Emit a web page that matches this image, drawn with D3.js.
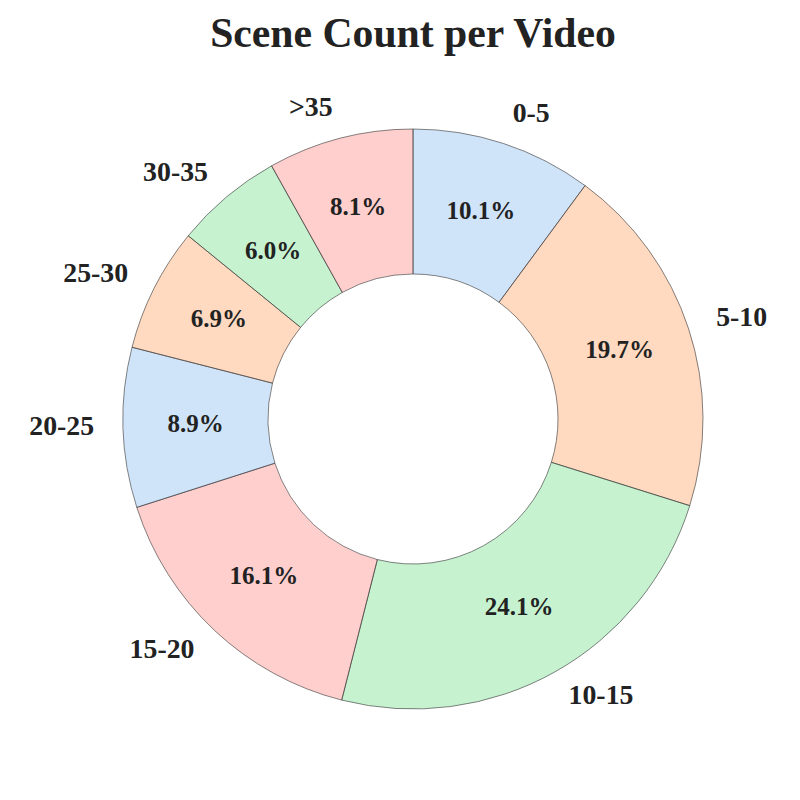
<!DOCTYPE html>
<html>
<head>
<meta charset="utf-8">
<script src="https://cdn.jsdelivr.net/npm/d3@7"></script>
<style>
  body { margin: 0; background: #fff; }
  text { font-family: "Liberation Serif", "Times New Roman", serif; font-weight: bold; fill: #222; }
</style>
</head>
<body>
<div id="chart"></div>
<script>
const categories = ['0-5', '5-10', '10-15', '15-20', '20-25', '25-30', '30-35', '>35'];
const shares = [10.1, 19.7, 24.1, 16.1, 8.9, 6.9, 6.0, 8.1];
const colors = ['#a1c9f4', '#ffb482', '#8de5a1', '#ff9f9b', '#a1c9f4', '#ffb482', '#8de5a1', '#ff9f9b'];

const width = 800, height = 800;
const cx = 413, cy = 419;
const outer = 290, inner = 145;

const data = categories.map((c, i) => ({ label: c, value: shares[i], color: colors[i] }));

const svg = d3.select('#chart')
  .append('svg')
  .attr('width', width)
  .attr('height', height);

svg.append('text')
  .attr('x', cx)
  .attr('y', 47)
  .attr('text-anchor', 'middle')
  .style('font-size', '41.7px')
  .text('Scene Count per Video');

const pie = d3.pie()
  .value(d => d.value)
  .sort(null);

const arc = d3.arc().innerRadius(inner).outerRadius(outer);
const labelArc = d3.arc().innerRadius(outer * 1.1).outerRadius(outer * 1.1);
const pctArc = d3.arc().innerRadius(outer * 0.75).outerRadius(outer * 0.75);

const g = svg.append('g').attr('transform', `translate(${cx},${cy})`);
const arcs = pie(data);

g.selectAll('path')
  .data(arcs)
  .enter()
  .append('path')
  .attr('d', arc)
  .attr('fill', d => d.data.color)
  .attr('fill-opacity', 0.5)
  .attr('stroke', '#333')
  .attr('stroke-opacity', 0.6)
  .attr('stroke-width', 1);

g.selectAll('.pct')
  .data(arcs)
  .enter()
  .append('text')
  .attr('class', 'pct')
  .attr('transform', d => `translate(${pctArc.centroid(d)})`)
  .attr('text-anchor', 'middle')
  .attr('dy', '0.25em')
  .style('font-size', '25px')
  .text(d => d.data.value.toFixed(1) + '%');

// labels anchored by side, like matplotlib's ha left/right
g.selectAll('.lbl')
  .data(arcs)
  .enter()
  .append('text')
  .attr('class', 'lbl')
  .attr('transform', d => `translate(${labelArc.centroid(d)})`)
  .attr('text-anchor', d => labelArc.centroid(d)[0] >= 0 ? 'start' : 'end')
  .attr('dy', '0.22em')
  .style('font-size', '27.8px')
  .text(d => d.data.label);
</script>
</body>
</html>
